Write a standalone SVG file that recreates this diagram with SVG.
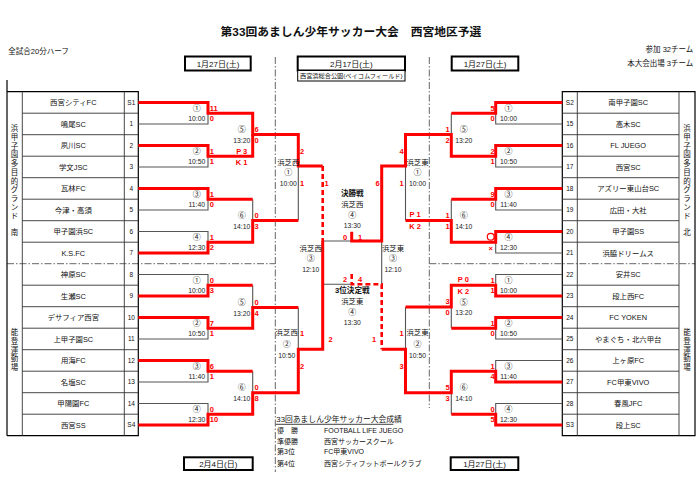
<svg xmlns="http://www.w3.org/2000/svg" width="700" height="486" viewBox="0 0 700 486">
<style>
text{font-family:"Liberation Sans","Noto Sans CJK JP",sans-serif;}
.tn{font-size:7.4px;text-anchor:middle;fill:#111}
.sd{font-size:6.5px;text-anchor:middle;fill:#111}
.ml{font-size:8px;text-anchor:middle;fill:#222}
.tm{font-size:6.8px;text-anchor:middle;fill:#222}
.s{font-size:7.5px;font-weight:bold;fill:#f00}
.e{text-anchor:end}
.m{text-anchor:middle}
.vt{font-size:7.5px;text-anchor:middle;fill:#111}
.hd{font-size:7.5px;fill:#111}
.dt{font-size:8px;text-anchor:middle;fill:#111}
.rs{font-size:7px;fill:#111}
.g{stroke:#555;stroke-width:1.1;fill:none}
.r{stroke:#f00;stroke-width:3;fill:none}
.rd{stroke:#f00;stroke-width:2.6;fill:none;stroke-dasharray:5 3}
.dd{stroke:#666;stroke-width:1;fill:none;stroke-dasharray:7 2 1.5 2}
.gl{stroke:#333;stroke-width:0.9;fill:none}
.fr{stroke:#000;stroke-width:1.2;fill:none}
.bx{stroke:#000;stroke-width:2;fill:#fff}
</style>
<rect width="700" height="486" fill="#fff"/>

<g id="header">
<text x="351" y="36" style="font-size:11.8px;font-weight:bold;text-anchor:middle" fill="#111">第33回あましん少年サッカー大会　西宮地区予選</text>
<text x="8.3" y="53.7" class="hd">全試合20分ハーフ</text>
<text x="693.3" y="52" class="hd e">参加  32チーム</text>
<text x="693.3" y="66" class="hd e">本大会出場  3チーム</text>
</g>

<g id="dates">
<rect x="185" y="56.5" width="65.7" height="14" class="bx"/>
<text x="218" y="66.6" class="dt">1月27日(土)</text>
<rect x="297.7" y="56.5" width="107.3" height="14" class="bx"/>
<text x="351.3" y="66.6" class="dt">2月17日(土)</text>
<rect x="297.7" y="70.5" width="107.3" height="10.5" fill="#fff" stroke="#000" stroke-width="1"/>
<text x="351.3" y="78.1" style="font-size:6.2px;text-anchor:middle" fill="#111">西宮浜総合公園(ベイコムフィールド)</text>
<rect x="451.7" y="56.5" width="66.6" height="14" class="bx"/>
<text x="485" y="66.6" class="dt">1月27日(土)</text>
<rect x="184" y="457.3" width="68.7" height="12.7" class="bx"/>
<text x="218.3" y="466.6" class="dt">2月4日(日)</text>
<rect x="450.7" y="457.3" width="67.6" height="12.7" class="bx"/>
<text x="484.5" y="466.6" class="dt">1月27日(土)</text>
</g>

<g id="separators">
<path class="dd" d="M275.3,57V472M429.3,57V408M7,263.7H275.3M429.3,263.7H695"/>
</g>

<g id="table-left">
<path class="fr" d="M7,80V435.7M7,91.7H138.3V435.7H7"/>
<path class="gl" d="M22.3,91.7V435.7M124.3,91.7V435.7"/>
<path class="gl" d="M22.3,113.2H138.3M22.3,134.7H138.3M22.3,156.2H138.3M22.3,177.7H138.3M22.3,199.2H138.3M22.3,220.7H138.3M22.3,242.2H138.3M22.3,285.2H138.3M22.3,306.7H138.3M22.3,328.2H138.3M22.3,349.7H138.3M22.3,371.2H138.3M22.3,392.7H138.3M22.3,414.2H138.3"/>
<text class="vt"><tspan x="14.6" y="131.1">浜</tspan><tspan x="14.6" y="139.85">甲</tspan><tspan x="14.6" y="148.6">子</tspan><tspan x="14.6" y="157.35">園</tspan><tspan x="14.6" y="166.1">多</tspan><tspan x="14.6" y="174.85">目</tspan><tspan x="14.6" y="183.6">的</tspan><tspan x="14.6" y="192.35">グ</tspan><tspan x="14.6" y="201.1">ラ</tspan><tspan x="14.6" y="209.85">ン</tspan><tspan x="14.6" y="218.6">ド</tspan><tspan x="14.6" y="234.5">南</tspan></text>
<text class="vt"><tspan x="14.6" y="335.1">能</tspan><tspan x="14.6" y="343.8">登</tspan><tspan x="14.6" y="352.5">運</tspan><tspan x="14.6" y="361.2">動</tspan><tspan x="14.6" y="369.9">場</tspan></text>
</g>

<g id="table-right">
<path class="fr" d="M562.3,91.7H695V435.7H562.3Z"/>
<path class="gl" d="M577.3,91.7V435.7M679,91.7V435.7"/>
<path class="gl" d="M562.3,113.2H679M562.3,134.7H679M562.3,156.2H679M562.3,177.7H679M562.3,199.2H679M562.3,220.7H679M562.3,242.2H679M562.3,285.2H679M562.3,306.7H679M562.3,328.2H679M562.3,349.7H679M562.3,371.2H679M562.3,392.7H679M562.3,414.2H679"/>
<text class="vt"><tspan x="687" y="131.1">浜</tspan><tspan x="687" y="139.85">甲</tspan><tspan x="687" y="148.6">子</tspan><tspan x="687" y="157.35">園</tspan><tspan x="687" y="166.1">多</tspan><tspan x="687" y="174.85">目</tspan><tspan x="687" y="183.6">的</tspan><tspan x="687" y="192.35">グ</tspan><tspan x="687" y="201.1">ラ</tspan><tspan x="687" y="209.85">ン</tspan><tspan x="687" y="218.6">ド</tspan><tspan x="687" y="234.5">北</tspan></text>
<text class="vt"><tspan x="687" y="335.1">能</tspan><tspan x="687" y="343.8">登</tspan><tspan x="687" y="352.5">運</tspan><tspan x="687" y="361.2">動</tspan><tspan x="687" y="369.9">場</tspan></text>
</g>

<g id="teams-left">
<g id="tL0"><text x="73.3" y="105.25" class="tn">西宮シティFC</text><text x="131.3" y="104.75" class="sd">S1</text></g>
<g id="tL1"><text x="73.3" y="126.75" class="tn">鳴尾SC</text><text x="131.3" y="126.25" class="sd">1</text></g>
<g id="tL2"><text x="73.3" y="148.25" class="tn">夙川SC</text><text x="131.3" y="147.75" class="sd">2</text></g>
<g id="tL3"><text x="73.3" y="169.75" class="tn">学文JSC</text><text x="131.3" y="169.25" class="sd">3</text></g>
<g id="tL4"><text x="73.3" y="191.25" class="tn">瓦林FC</text><text x="131.3" y="190.75" class="sd">4</text></g>
<g id="tL5"><text x="73.3" y="212.75" class="tn">今津・高須</text><text x="131.3" y="212.25" class="sd">5</text></g>
<g id="tL6"><text x="73.3" y="234.25" class="tn">甲子園浜SC</text><text x="131.3" y="233.75" class="sd">6</text></g>
<g id="tL7"><text x="73.3" y="255.75" class="tn">K.S.FC</text><text x="131.3" y="255.25" class="sd">7</text></g>
<g id="tL8"><text x="73.3" y="277.25" class="tn">神原SC</text><text x="131.3" y="276.75" class="sd">8</text></g>
<g id="tL9"><text x="73.3" y="298.75" class="tn">生瀬SC</text><text x="131.3" y="298.25" class="sd">9</text></g>
<g id="tL10"><text x="73.3" y="320.25" class="tn">デサフィア西宮</text><text x="131.3" y="319.75" class="sd">10</text></g>
<g id="tL11"><text x="73.3" y="341.75" class="tn">上甲子園SC</text><text x="131.3" y="341.25" class="sd">11</text></g>
<g id="tL12"><text x="73.3" y="363.25" class="tn">用海FC</text><text x="131.3" y="362.75" class="sd">12</text></g>
<g id="tL13"><text x="73.3" y="384.75" class="tn">名塩SC</text><text x="131.3" y="384.25" class="sd">13</text></g>
<g id="tL14"><text x="73.3" y="406.25" class="tn">甲陽園FC</text><text x="131.3" y="405.75" class="sd">14</text></g>
<g id="tL15"><text x="73.3" y="427.75" class="tn">西宮SS</text><text x="131.3" y="427.25" class="sd">S4</text></g>
</g>

<g id="teams-right">
<g id="tR0"><text x="628.2" y="105.25" class="tn">南甲子園SC</text><text x="569.8" y="104.75" class="sd">S2</text></g>
<g id="tR1"><text x="628.2" y="126.75" class="tn">高木SC</text><text x="569.8" y="126.25" class="sd">15</text></g>
<g id="tR2"><text x="628.2" y="148.25" class="tn">FL JUEGO</text><text x="569.8" y="147.75" class="sd">16</text></g>
<g id="tR3"><text x="628.2" y="169.75" class="tn">西宮SC</text><text x="569.8" y="169.25" class="sd">17</text></g>
<g id="tR4"><text x="628.2" y="191.25" class="tn">アズリー東山台SC</text><text x="569.8" y="190.75" class="sd">18</text></g>
<g id="tR5"><text x="628.2" y="212.75" class="tn">広田・大社</text><text x="569.8" y="212.25" class="sd">19</text></g>
<g id="tR6"><text x="628.2" y="234.25" class="tn">甲子園SS</text><text x="569.8" y="233.75" class="sd">20</text></g>
<g id="tR7"><text x="628.2" y="255.75" class="tn">浜脇ドリームス</text><text x="569.8" y="255.25" class="sd">21</text></g>
<g id="tR8"><text x="628.2" y="277.25" class="tn">安井SC</text><text x="569.8" y="276.75" class="sd">22</text></g>
<g id="tR9"><text x="628.2" y="298.75" class="tn">段上西FC</text><text x="569.8" y="298.25" class="sd">23</text></g>
<g id="tR10"><text x="628.2" y="320.25" class="tn">FC YOKEN</text><text x="569.8" y="319.75" class="sd">24</text></g>
<g id="tR11"><text x="628.2" y="341.75" class="tn">やまぐち・北六甲台</text><text x="569.8" y="341.25" class="sd">25</text></g>
<g id="tR12"><text x="628.2" y="363.25" class="tn">上ヶ原FC</text><text x="569.8" y="362.75" class="sd">26</text></g>
<g id="tR13"><text x="628.2" y="384.75" class="tn">FC甲東VIVO</text><text x="569.8" y="384.25" class="sd">27</text></g>
<g id="tR14"><text x="628.2" y="406.25" class="tn">春風JFC</text><text x="569.8" y="405.75" class="sd">28</text></g>
<g id="tR15"><text x="628.2" y="427.75" class="tn">段上SC</text><text x="569.8" y="427.25" class="sd">S3</text></g>
</g>

<g id="connectors">
<path class="g" d="M138.3,123.95H208V113.2M138.3,166.95H208V156.2M138.3,209.95H208V199.2M138.3,231.45H208V242.2M138.3,274.45H208V285.2M138.3,338.95H208V328.2M138.3,381.95H208V371.2M138.3,403.45H208V414.2"/>
<path class="g" d="M252.7,199.2V220.5M252.7,285.2V307.5M252.7,371.2V392.7M298.3,166V220.5M298.3,307.5V349.3M322.7,241H351.7M322.7,284.3H351.7M381.7,241V284.3M405.5,166V220.5M405.5,307V349.3M451.3,113.2V134.5M451.3,199.2V220.5M451.3,307V328.2M451.3,392.7V414.2"/>
<path class="g" d="M562.3,123.95H495.7V113.2M562.3,166.95H495.7V156.2M562.3,209.95H495.7V199.2M562.3,252.95H495.7V242.2M562.3,274.45H495.7V285.2M562.3,338.95H495.7V328.2M562.3,360.45H495.7V371.2M562.3,403.45H495.7V414.2"/>
<path class="r" d="M138.3,102.45H208V113.2H252.7V134.5H298.3V166H322.7"/>
<path class="r" d="M138.3,145.45H208V156.2H252.7V134.5"/>
<path class="r" d="M138.3,188.45H208V199.2H252.7"/>
<path class="r" d="M138.3,252.95H208V242.2H252.7V220.5H298.3"/>
<path class="r" d="M138.3,295.95H208V285.2H252.7"/>
<path class="r" d="M138.3,317.45H208V328.2H252.7V307.5H298.3"/>
<path class="r" d="M138.3,360.45H208V371.2H252.7"/>
<path class="r" d="M138.3,424.95H208V414.2H252.7V392.7H298.3V349.3H322.7V241"/>
<path class="r" d="M351.7,231.7V241H381.7V166H405.5V134.5H451.3V156.2H495.7V145.45H562.3"/>
<path class="r" d="M562.3,102.45H495.7V113.2H451.3"/>
<path class="r" d="M562.3,188.45H495.7V199.2H451.3"/>
<path class="r" d="M562.3,231.45H495.7V242.2H451.3V220.5H405.5"/>
<path class="r" d="M381.7,349.3H405.5V392.7H451.3V371.2H495.7V381.95H562.3"/>
<path class="r" d="M562.3,424.95H495.7V414.2H451.3"/>
<path class="r" d="M562.3,295.95H495.7V285.2H451.3V307H405.5"/>
<path class="r" d="M562.3,317.45H495.7V328.2H451.3"/>
<path class="rd" d="M322.7,166V241"/>
<path class="rd" d="M351.7,274V284.3H381.7V349.3"/>
</g>

<g id="matches-left">
<g id="mL1"><text x="196.7" y="111.2" class="ml">①</text><text x="196.7" y="121.2" class="tm">10:00</text><text x="209.8" y="110.5" class="s">11</text><text x="209.8" y="121" class="s">0</text></g>
<g id="mL2"><text x="196.7" y="154.2" class="ml">②</text><text x="196.7" y="164.2" class="tm">10:50</text><text x="209.8" y="153.5" class="s">1</text><text x="209.8" y="164" class="s">1</text></g>
<g id="mL3"><text x="196.7" y="197.2" class="ml">③</text><text x="196.7" y="207.2" class="tm">11:40</text><text x="209.8" y="196.5" class="s">1</text><text x="209.8" y="207" class="s">0</text></g>
<g id="mL4"><text x="196.7" y="240.2" class="ml">④</text><text x="196.7" y="250.2" class="tm">12:30</text><text x="209.8" y="239.5" class="s">1</text><text x="209.8" y="250" class="s">2</text></g>
<g id="mL5"><text x="241.7" y="132" class="ml">⑤</text><text x="241.7" y="142.5" class="tm">13:20</text><text x="254.6" y="131.8" class="s">6</text><text x="254.6" y="142.8" class="s">0</text><text x="241.7" y="153.5" class="s m">P 3</text><text x="241.7" y="164.5" class="s m">K 1</text></g>
<g id="mL6"><text x="241.7" y="218" class="ml">⑥</text><text x="241.7" y="228.5" class="tm">14:10</text><text x="254.6" y="217.8" class="s">0</text><text x="254.6" y="228.8" class="s">3</text></g>
<g id="mL7"><text x="196.7" y="283.2" class="ml">①</text><text x="196.7" y="293.2" class="tm">10:00</text><text x="209.8" y="282.5" class="s">0</text><text x="209.8" y="293" class="s">3</text></g>
<g id="mL8"><text x="196.7" y="326.2" class="ml">②</text><text x="196.7" y="336.2" class="tm">10:50</text><text x="209.8" y="325.5" class="s">7</text><text x="209.8" y="336" class="s">1</text></g>
<g id="mL9"><text x="196.7" y="369.2" class="ml">③</text><text x="196.7" y="379.2" class="tm">11:40</text><text x="209.8" y="368.5" class="s">6</text><text x="209.8" y="379" class="s">1</text></g>
<g id="mL10"><text x="196.7" y="412.2" class="ml">④</text><text x="196.7" y="422.2" class="tm">12:30</text><text x="209.8" y="411.5" class="s">0</text><text x="209.8" y="422" class="s">10</text></g>
<g id="mL11"><text x="241.7" y="305" class="ml">⑤</text><text x="241.7" y="315.5" class="tm">13:20</text><text x="254.6" y="304.8" class="s">0</text><text x="254.6" y="315.8" class="s">4</text></g>
<g id="mL12"><text x="241.7" y="390.2" class="ml">⑥</text><text x="241.7" y="400.7" class="tm">14:10</text><text x="254.6" y="390" class="s">0</text><text x="254.6" y="401" class="s">8</text></g>
</g>

<g id="matches-right">
<g id="mR1"><text x="508.5" y="111.2" class="ml">①</text><text x="508.5" y="121.2" class="tm">10:00</text><text x="494.6" y="110.5" class="s e">5</text><text x="494.6" y="121" class="s e">0</text></g>
<g id="mR2"><text x="508.5" y="154.2" class="ml">②</text><text x="508.5" y="164.2" class="tm">10:50</text><text x="494.6" y="153.5" class="s e">2</text><text x="494.6" y="164" class="s e">1</text></g>
<g id="mR3"><text x="508.5" y="197.2" class="ml">③</text><text x="508.5" y="207.2" class="tm">11:40</text><text x="494.6" y="196.5" class="s e">9</text><text x="494.6" y="207" class="s e">0</text></g>
<g id="mR4"><text x="508.5" y="240.2" class="ml">④</text><text x="508.5" y="250.2" class="tm">12:30</text><circle cx="490.7" cy="236.7" r="3.4" fill="none" stroke="#f00" stroke-width="1.2"/><text x="490.7" y="250.8" class="s m">×</text></g>
<g id="mR5"><text x="463.7" y="132" class="ml">⑤</text><text x="463.7" y="142.5" class="tm">13:20</text><text x="449.6" y="131.8" class="s e">1</text><text x="449.6" y="142.8" class="s e">2</text></g>
<g id="mR6"><text x="463.7" y="218" class="ml">⑥</text><text x="463.7" y="228.5" class="tm">14:10</text><text x="449.6" y="217.8" class="s e">1</text><text x="449.6" y="228.8" class="s e">1</text><text x="415" y="217.1" class="s m">P 1</text><text x="415" y="228.8" class="s m">K 2</text></g>
<g id="mR7"><text x="508.5" y="283.2" class="ml">①</text><text x="508.5" y="293.2" class="tm">10:00</text><text x="494.6" y="282.5" class="s e">1</text><text x="494.6" y="293" class="s e">1</text><text x="463.3" y="282.1" class="s m">P 0</text><text x="463.3" y="293.5" class="s m">K 2</text></g>
<g id="mR8"><text x="508.5" y="326.2" class="ml">②</text><text x="508.5" y="336.2" class="tm">10:50</text><text x="494.6" y="325.5" class="s e">1</text><text x="494.6" y="336" class="s e">0</text></g>
<g id="mR9"><text x="508.5" y="369.2" class="ml">③</text><text x="508.5" y="379.2" class="tm">11:40</text><text x="494.6" y="368.5" class="s e">1</text><text x="494.6" y="379" class="s e">4</text></g>
<g id="mR10"><text x="508.5" y="412.2" class="ml">④</text><text x="508.5" y="422.2" class="tm">12:30</text><text x="494.6" y="411.5" class="s e">0</text><text x="494.6" y="422" class="s e">5</text></g>
<g id="mR11"><text x="463.7" y="304.5" class="ml">⑤</text><text x="463.7" y="315" class="tm">13:20</text><text x="449.6" y="304.3" class="s e">3</text><text x="449.6" y="315.3" class="s e">0</text></g>
<g id="mR12"><text x="463.7" y="390.2" class="ml">⑥</text><text x="463.7" y="400.7" class="tm">14:10</text><text x="449.6" y="390" class="s e">5</text><text x="449.6" y="401" class="s e">3</text></g>
</g>

<g id="matches-center">
<g id="semiW1"><text x="288.3" y="164.5" class="tn">浜芝西</text><text x="288.3" y="175.3" class="ml">①</text><text x="288.3" y="186.2" class="tm">10:00</text><text x="300" y="153.5" class="s">2</text><text x="300" y="185.8" class="s">1</text></g>
<g id="semiE1"><text x="417.5" y="165.1" class="tn">浜芝東</text><text x="417.5" y="175.3" class="ml">①</text><text x="417.5" y="186.2" class="tm">10:00</text><text x="403.6" y="153.5" class="s e">4</text><text x="403.6" y="185.8" class="s e">1</text></g>
<g id="semiW2"><text x="286.7" y="335.1" class="tn">浜芝西</text><text x="286.7" y="347.3" class="ml">②</text><text x="286.7" y="358.2" class="tm">10:50</text><text x="300" y="336.1" class="s">1</text><text x="300" y="368.8" class="s">2</text></g>
<g id="semiE2"><text x="417.5" y="335.1" class="tn">浜芝東</text><text x="417.5" y="347.3" class="ml">②</text><text x="417.5" y="358.2" class="tm">10:50</text><text x="403.6" y="336.1" class="s e">1</text><text x="403.6" y="368.8" class="s e">3</text></g>
<g id="semiW3"><text x="310.7" y="251.1" class="tn">浜芝西</text><text x="310.7" y="261.3" class="ml">③</text><text x="310.7" y="271.8" class="tm">12:10</text><text x="324.5" y="185.8" class="s">1</text><text x="328.5" y="341.8" class="s">2</text></g>
<g id="semiE3"><text x="393" y="251.1" class="tn">浜芝東</text><text x="393" y="261.3" class="ml">③</text><text x="393" y="271.8" class="tm">12:10</text><text x="379.6" y="185.8" class="s e">6</text><text x="376.2" y="341.8" class="s e">1</text></g>
<g id="final"><text x="352.3" y="196.1" style="font-size:7.6px;font-weight:bold;text-anchor:middle" fill="#111">決勝戦</text><text x="352.3" y="206.8" class="tn">浜芝西</text><text x="352.3" y="218" class="ml">④</text><text x="352.3" y="228.2" class="tm">13:30</text><text x="345" y="239.5" class="s m">0</text><text x="360" y="239.5" class="s m">1</text></g>
<g id="third"><text x="352.3" y="292.8" style="font-size:7.6px;font-weight:bold;text-anchor:middle" fill="#111">3位決定戦</text><text x="352.3" y="303.5" class="tn">浜芝東</text><text x="352.3" y="314.7" class="ml">④</text><text x="352.3" y="324.8" class="tm">13:30</text><text x="345" y="281.8" class="s m">2</text><text x="360" y="281.8" class="s m">4</text></g>
</g>

<g id="results">
<text x="276.3" y="422.2" style="font-size:7.8px" fill="#111">33回あましん少年サッカー大会成績</text>
<path d="M275.7,424.3H393.3" stroke="#111" stroke-width="0.8"/>
<text x="277" y="433.3" class="rs">優　勝</text><text x="324" y="433.3" class="rs">FOOTBALL LIFE JUEGO</text>
<text x="277" y="443.6" class="rs">準優勝</text><text x="324" y="443.6" class="rs">西宮サッカースクール</text>
<text x="277" y="453.9" class="rs">第3位</text><text x="324" y="453.9" class="rs">FC甲東VIVO</text>
<text x="277" y="465.9" class="rs">第4位</text><text x="324" y="465.9" class="rs">西宮シティフットボールクラブ</text>
</g>
</svg>
